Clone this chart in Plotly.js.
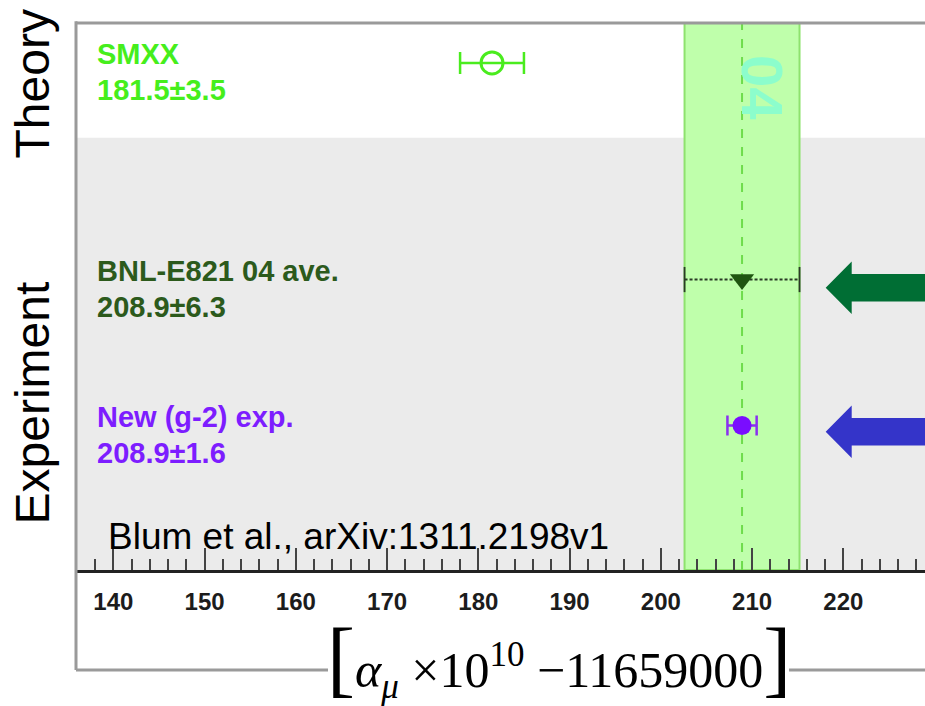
<!DOCTYPE html>
<html>
<head>
<meta charset="utf-8">
<script src="https://cdn.plot.ly/plotly-3.0.1.min.js"></script>
<style>html,body{margin:0;padding:0;background:#fff;}#chart{width:925px;height:706px;}</style>
</head>
<body>
<div id="chart"></div>
<script>
// ---- data ----
const categories = ['SMXX', 'BNL-E821 04 ave.', 'New (g-2) exp.'];
const centers = [181.5, 208.9, 208.9];
const errors = [3.5, 6.3, 1.6];
const rowPos = [9.27, 5.31, 2.64];
const groups = ['Theory', 'Experiment'];
const tickVals = [140, 150, 160, 170, 180, 190, 200, 210, 220];
const tickText = ['140', '150', '160', '170', '180', '190', '200', '210', '220'];
const bandLabel = '04';
const sourceNote = 'Blum et al., arXiv:1311.2198v1';

// ---- geometry helpers (pixel -> paper) ----
const W = 925, H = 706, ML = 76, MT = 23, MB = 136;
const PW = W - ML, PH = H - MT - MB;
const px = x => (x - ML) / PW;
const py = y => (H - MB - y) / PH;

const labelColors = ['#46ee1c', '#2c5a1c', '#7d1dff'];

const traces = [];
// SMXX theory point
traces.push({
  x: [centers[0]], y: [rowPos[0]], type: 'scatter', mode: 'markers',
  marker: {symbol: 'circle-open', size: 22, color: '#4aec1e', line: {width: 3, color: '#4aec1e'}},
  error_x: {type: 'data', array: [errors[0]], color: '#4aec1e', thickness: 2.5, width: 11},
  showlegend: false, hoverinfo: 'x'
});
// BNL dotted error bar
traces.push({
  x: [centers[1] - errors[1], centers[1] + errors[1]], y: [rowPos[1], rowPos[1]],
  type: 'scatter', mode: 'lines+markers',
  line: {color: '#2a3a26', width: 2, dash: '3px,2px'},
  marker: {symbol: 'line-ns-open', size: 18, line: {width: 1.8, color: '#2a3a26'}},
  showlegend: false, hoverinfo: 'skip'
});
traces.push({
  x: [centers[1]], y: [rowPos[1]], type: 'scatter', mode: 'markers',
  marker: {symbol: 'triangle-down', size: 21, color: '#1f5510'},
  showlegend: false, hoverinfo: 'x'
});
// New experiment
traces.push({
  x: [centers[2]], y: [rowPos[2]], type: 'scatter', mode: 'markers',
  marker: {symbol: 'circle', size: 19, color: '#7a0dff'},
  error_x: {type: 'data', array: [errors[2]], color: '#8a30f0', thickness: 2.5, width: 10},
  showlegend: false, hoverinfo: 'x'
});

const annotations = [];
categories.forEach((c, i) => {
  annotations.push({
    xref: 'paper', yref: 'y', x: px(95), y: rowPos[i], xanchor: 'left', yanchor: 'middle',
    yshift: 9, text: '<b>' + c + '</b>', showarrow: false,
    font: {family: 'Liberation Sans, Arial', size: 29, color: labelColors[i]}
  });
  annotations.push({
    xref: 'paper', yref: 'y', x: px(95), y: rowPos[i], xanchor: 'left', yanchor: 'middle',
    yshift: -27, text: '<b>' + centers[i].toFixed(1) + '±' + errors[i].toFixed(1) + '</b>', showarrow: false,
    font: {family: 'Liberation Sans, Arial', size: 29, color: labelColors[i]}
  });
});
annotations.push({
  xref: 'paper', yref: 'paper', x: px(32), y: py(84.5), textangle: -90,
  text: groups[0], showarrow: false, xanchor: 'center', yanchor: 'middle',
  font: {family: 'Liberation Sans, Arial', size: 48, color: '#000'}
});
annotations.push({
  xref: 'paper', yref: 'paper', x: px(32), y: py(403.5), textangle: -90,
  text: groups[1], showarrow: false, xanchor: 'center', yanchor: 'middle',
  font: {family: 'Liberation Sans, Arial', size: 48, color: '#000'}
});
annotations.push({
  xref: 'paper', yref: 'paper', x: px(762), y: py(87), textangle: 90,
  text: '<b>' + bandLabel + '</b>', showarrow: false, xanchor: 'center', yanchor: 'middle',
  font: {family: 'Liberation Sans, Arial', size: 58, color: '#8cfdcc'}
});
annotations.push({
  xref: 'paper', yref: 'paper', x: px(106), y: py(536), xanchor: 'left', yanchor: 'middle',
  text: sourceNote, showarrow: false,
  font: {family: 'Liberation Sans, Arial', size: 37, color: '#000'}
});
// axis title (brackets larger, sharing the baseline)
annotations.push({
  xref: 'paper', yref: 'paper', x: px(559), y: py(659), xanchor: 'center', yanchor: 'middle',
  text: '<span style="font-size:84px">[</span><i>α</i><sub><i>μ</i></sub> ×10<sup>10</sup> −11659000<span style="font-size:84px">]</span>',
  showarrow: false,
  font: {family: 'Liberation Serif, Times New Roman', size: 50, color: '#000'}
});

function arrowPath(tipX, tipY, backX, headHalf, shaftHalf, endX) {
  const pts = [
    [tipX, tipY], [backX, tipY - headHalf], [backX, tipY - shaftHalf], [endX, tipY - shaftHalf],
    [endX, tipY + shaftHalf], [backX, tipY + shaftHalf], [backX, tipY + headHalf]
  ];
  return 'M' + pts.map(p => px(p[0]).toFixed(5) + ',' + py(p[1]).toFixed(5)).join(' L') + ' Z';
}

const shapes = [
  // grey experiment region
  {type: 'rect', xref: 'paper', yref: 'y', x0: 0, x1: 1, y0: 0, y1: 7.9, fillcolor: '#ebebeb', line: {width: 0}, layer: 'below'},
  // BNL band
  {type: 'rect', xref: 'x', yref: 'paper', x0: centers[1] - errors[1], x1: centers[1] + errors[1], y0: 0, y1: 1,
   fillcolor: '#bfffab', line: {color: '#8ee26e', width: 2}, layer: 'below'},
  {type: 'line', xref: 'x', yref: 'paper', x0: centers[1], x1: centers[1], y0: 0, y1: 1,
   line: {color: '#6edc4c', width: 2, dash: 'dash'}, layer: 'below'},
  // frame
  {type: 'line', xref: 'paper', yref: 'paper', x0: 0, x1: 1.01, y0: 1, y1: 1, line: {color: '#9a9a9a', width: 3}},
  {type: 'line', xref: 'paper', yref: 'paper', x0: 0, x1: 0, y0: py(670), y1: 1.003, line: {color: '#9a9a9a', width: 3}},
  {type: 'line', xref: 'paper', yref: 'paper', x0: 0, x1: px(328), y0: py(670), y1: py(670), line: {color: '#9a9a9a', width: 3}},
  {type: 'line', xref: 'paper', yref: 'paper', x0: px(789), x1: 1.01, y0: py(670), y1: py(670), line: {color: '#9a9a9a', width: 3}},
  // arrows
  {type: 'path', xref: 'paper', yref: 'paper', path: arrowPath(825.7, 287.7, 851.7, 26.2, 13.7, 940), fillcolor: '#006e34', line: {width: 0}},
  {type: 'path', xref: 'paper', yref: 'paper', path: arrowPath(825.7, 431.7, 851.7, 26.2, 13.7, 940), fillcolor: '#3434c9', line: {width: 0}}
];

const layout = {
  width: W, height: H,
  margin: {l: ML, r: 0, t: MT, b: MB, pad: 0},
  paper_bgcolor: '#ffffff', plot_bgcolor: '#ffffff',
  showlegend: false,
  xaxis: {
    range: [135.91, 228.95], tickmode: 'array', tickvals: tickVals, ticktext: tickText,
    ticks: 'inside', ticklen: 22, tickwidth: 2, tickcolor: '#444',
    minor: {dtick: 2, tick0: 140, ticks: 'inside', ticklen: 11, tickwidth: 2, tickcolor: '#444', showgrid: false},
    showline: true, linecolor: '#222', linewidth: 3, mirror: false,
    showgrid: false, zeroline: false, ticklabelstandoff: 8,
    tickfont: {family: 'Liberation Sans, Arial', size: 24, color: '#1c1c1c', weight: 'bold'},
    fixedrange: true
  },
  yaxis: {range: [0, 10], visible: false, fixedrange: true},
  shapes: shapes,
  annotations: annotations
};

Plotly.newPlot('chart', traces, layout, {staticPlot: true, displayModeBar: false});
</script>
</body>
</html>
